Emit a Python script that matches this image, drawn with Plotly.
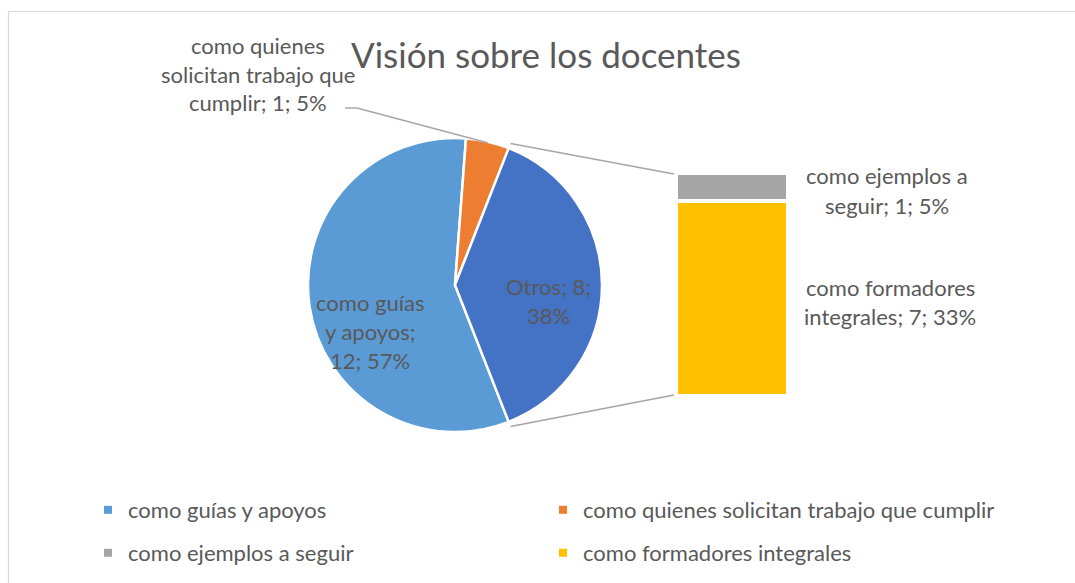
import math
import textwrap
import plotly.graph_objects as go

# ---------------- data ----------------
categories = ["como guías y apoyos", "como quienes solicitan trabajo que cumplir",
              "como ejemplos a seguir", "como formadores integrales"]
values = [12, 1, 1, 7]
colors = ["#5B9BD5", "#ED7D31", "#A5A5A5", "#FFC000"]
other_label = "Otros"
other_color = "#4472C4"
title_text = "Visión sobre los docentes"

W, H = 1075, 583
FONT = "Lato"
TXT = "#595959"
LBL = 22


def px(x):
    return x / W


def py(y):
    return 1 - y / H


total = sum(values)
pie_labels = categories[:2] + [other_label]
pie_values = values[:2] + [sum(values[2:])]
pie_colors = colors[:2] + [other_color]
pct = [round(100 * v / total) for v in values]
other_pct = round(100 * pie_values[2] / total)

# pie geometry (layout)
cx, cy, R = 455, 285, 147
other_frac = pie_values[2] / total
rotation = 90 + other_frac * 180  # Otros centred at 3 o'clock

# bar geometry (layout)
bar_x0, bar_x1 = 676, 788
bar_ytop, bar_ybot = 173, 396

fig = go.Figure()

fig.add_trace(go.Pie(
    labels=pie_labels, values=pie_values, sort=False, direction="clockwise",
    rotation=rotation, marker=dict(colors=pie_colors, line=dict(color="white", width=2.5)),
    textinfo="none", hoverinfo="label+value+percent", showlegend=False,
    domain=dict(x=[px(cx - R), px(cx + R)], y=[py(cy + R), py(cy - R)]),
))

# stacked bar (bottom first: formadores, then ejemplos)
for i in [3, 2]:
    fig.add_trace(go.Bar(
        x=[0], y=[values[i]], width=1, marker=dict(color=colors[i], line=dict(color="white", width=4)),
        showlegend=False, name=categories[i], xaxis="x", yaxis="y",
    ))

# legend entries
for i in range(4):
    fig.add_trace(go.Scatter(
        x=[None], y=[None], mode="markers", name=categories[i],
        marker=dict(symbol="square", size=8, color=colors[i]),
        legend="legend" if i < 2 else "legend2",
    ))

bar_total = sum(values[2:])

fig.update_layout(
    width=W, height=H, margin=dict(l=0, r=0, t=0, b=0),
    paper_bgcolor="white", plot_bgcolor="white", barmode="stack",
    font=dict(family=FONT, color=TXT),
    xaxis=dict(domain=[px(bar_x0), px(bar_x1)], range=[-0.5, 0.5], visible=False, fixedrange=True),
    yaxis=dict(domain=[py(bar_ybot), py(bar_ytop)], range=[0, bar_total], visible=False, fixedrange=True),
    legend=dict(orientation="h", x=px(88), y=py(510), xanchor="left", yanchor="middle", traceorder="normal",
                entrywidth=410, entrywidthmode="pixels", font=dict(size=LBL, color=TXT, family=FONT),
                bgcolor="rgba(0,0,0,0)"),
    legend2=dict(orientation="h", x=px(88), y=py(553), xanchor="left", yanchor="middle", traceorder="normal",
                 entrywidth=410, entrywidthmode="pixels", font=dict(size=LBL, color=TXT, family=FONT),
                 bgcolor="rgba(0,0,0,0)"),
    showlegend=True,
)

annotations = []
shapes = []


def add_lines(text, width, xc, y0, spacing, size=LBL):
    lines = textwrap.wrap(text, width)
    for k, ln in enumerate(lines):
        annotations.append(dict(text=ln, x=px(xc), y=py(y0 + k * spacing), xref="paper", yref="paper",
                                showarrow=False, xanchor="center", yanchor="middle",
                                font=dict(size=size, color=TXT, family=FONT)))


# title
annotations.append(dict(text=title_text, x=px(546), y=py(54), xref="paper", yref="paper", showarrow=False,
                        xanchor="center", yanchor="middle", font=dict(size=35, color=TXT, family=FONT)))

# data labels
add_lines(f"{categories[0]}; {values[0]}; {pct[0]}%", 10, 370, 302, 29)
add_lines(f"{other_label}; {pie_values[2]}; {other_pct}%", 9, 548, 286, 29)
add_lines(f"{categories[1]}; {values[1]}; {pct[1]}%", 21, 258, 45, 29)
add_lines(f"{categories[2]}; {values[2]}; {pct[2]}%", 15, 887, 176, 29)
add_lines(f"{categories[3]}; {values[3]}; {pct[3]}%", 18, 890, 287, 29)


def pie_point(angle_deg, r):
    a = math.radians(angle_deg)
    return cx + r * math.sin(a), cy - r * math.cos(a)


# leader line for the orange slice
start_orange = rotation + 360 * values[0] / total
mid_orange = start_orange + 180 * values[1] / total
ex, ey = pie_point(mid_orange, R - 1)
shapes.append(dict(type="path", xref="paper", yref="paper",
                   path=f"M{px(345)},{py(108)} L{px(357)},{py(108)} L{px(ex)},{py(ey)}",
                   line=dict(color="#A6A6A6", width=1.5)))

# connector lines from Otros slice edges to bar
a_top = rotation - 360 * other_frac + 360
a_bot = rotation
tx, ty = pie_point(a_top, R + 5)
bx, by = pie_point(a_bot, R + 5)
shapes.append(dict(type="line", xref="paper", yref="paper", x0=px(tx), y0=py(ty), x1=px(bar_x0 - 2), y1=py(bar_ytop + 1),
                   line=dict(color="#A6A6A6", width=1.5)))
shapes.append(dict(type="line", xref="paper", yref="paper", x0=px(bx), y0=py(by), x1=px(bar_x0 - 2), y1=py(bar_ybot - 1),
                   line=dict(color="#A6A6A6", width=1.5)))

# chart border
shapes.append(dict(type="rect", xref="paper", yref="paper", x0=px(8.5), y0=-0.05, x1=1.05, y1=py(11.5),
                   line=dict(color="#D9D9D9", width=1.2), fillcolor="rgba(0,0,0,0)", layer="below"))

fig.update_layout(annotations=annotations, shapes=shapes)
fig.write_html("out.html", config={"displayModeBar": False},
               post_script="document.body.style.margin='0';")
